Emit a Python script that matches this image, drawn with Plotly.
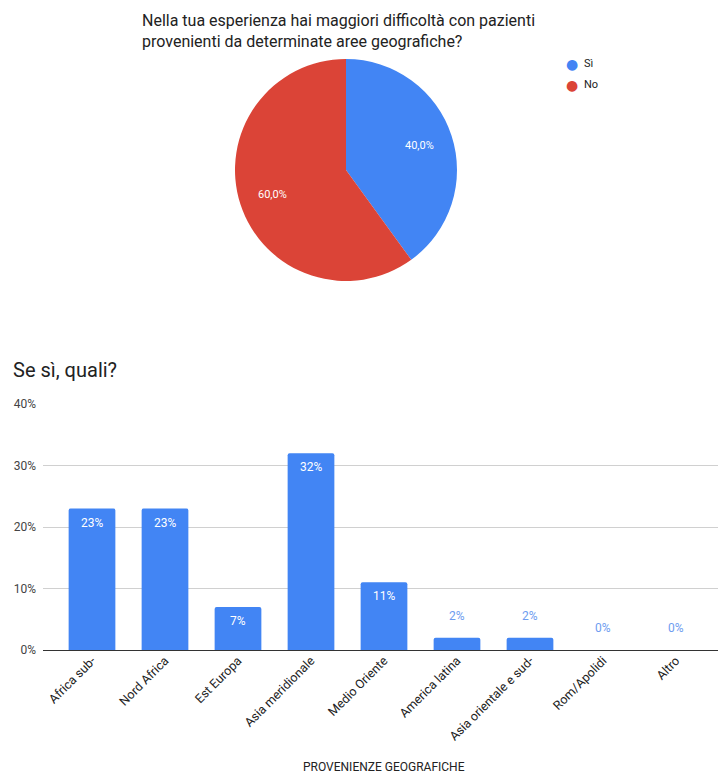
import math
import plotly.graph_objects as go

W, H = 718, 775

pie_labels = ["Sì", "No"]
pie_values = [40, 60]
pie_colors = ["#4285F4", "#DB4437"]

categories = ["Africa sub-", "Nord Africa", "Est Europa", "Asia meridionale", "Medio Oriente",
              "America latina", "Asia orientale e sud-", "Rom/Apolidi", "Altro"]
values = [23, 23, 7, 32, 11, 2, 2, 0, 0]
y_ticks = [0, 10, 20, 30, 40]

BLUE = "#4285F4"
FONT = "Roboto"

def px_x(x):
    return x / W

def px_y(y):
    return 1 - y / H

# pie box (pixels)
PIE_L, PIE_R, PIE_T, PIE_B = 235, 457, 59, 281
pcx, pcy = (PIE_L + PIE_R) / 2, (PIE_T + PIE_B) / 2
prad = (PIE_R - PIE_L) / 2

fig = go.Figure()

fig.add_trace(go.Pie(
    labels=pie_labels, values=pie_values,
    marker=dict(colors=pie_colors, line=dict(width=0)),
    sort=False, direction="clockwise", rotation=0,
    textinfo="none",
    showlegend=False, hoverinfo="label+percent",
    domain=dict(x=[px_x(PIE_L), px_x(PIE_R)], y=[px_y(PIE_B), px_y(PIE_T)]),
))

fig.add_trace(go.Bar(
    x=categories, y=values,
    marker=dict(color=BLUE, cornerradius=2),
    width=0.64, showlegend=False,
    xaxis="x", yaxis="y",
))

annotations = []

# pie slice labels, placed at 70% of the radius on each slice's mid-angle
total = sum(pie_values)
cum = 0
for v in pie_values:
    mid = (cum + v / 2) / total * 2 * math.pi
    cum += v
    lx = pcx + 0.7 * prad * math.sin(mid)
    ly = pcy - 0.7 * prad * math.cos(mid)
    pct = f"{v / total * 100:.1f}".replace(".", ",") + "%"
    annotations.append(dict(x=px_x(lx), y=px_y(ly), xref="paper", yref="paper", showarrow=False,
                            xanchor="center", yanchor="middle", text=pct,
                            font=dict(color="white", size=11, family=FONT)))

for c, v in zip(categories, values):
    if v >= 5:
        annotations.append(dict(x=c, y=v, xref="x", yref="y", text=f"{v}%", showarrow=False,
                                yanchor="top", yshift=-5,
                                font=dict(color="white", size=12, family=FONT)))
    else:
        annotations.append(dict(x=c, y=v, xref="x", yref="y", text=f"{v}%", showarrow=False,
                                yanchor="bottom", yshift=13,
                                font=dict(color="#6E9CF0", size=12, family=FONT)))

# titles
annotations.append(dict(x=px_x(140), y=px_y(9), xref="paper", yref="paper", xanchor="left", yanchor="top",
                        align="left", showarrow=False,
                        text="Nella tua esperienza hai maggiori difficoltà con pazienti<br>provenienti da determinate aree geografiche?",
                        font=dict(size=16, color="#222222", family=FONT)))
annotations.append(dict(x=px_x(11), y=px_y(370), xref="paper", yref="paper", xanchor="left", yanchor="middle",
                        showarrow=False, text="Se sì, quali?",
                        font=dict(size=20, color="#222222", family=FONT)))
annotations.append(dict(x=px_x(384), y=px_y(767), xref="paper", yref="paper", xanchor="center", yanchor="middle",
                        showarrow=False, text="PROVENIENZE GEOGRAFICHE",
                        font=dict(size=12, color="#222222", family=FONT)))

# legend for pie
for i, (lab, col) in enumerate(zip(pie_labels, pie_colors)):
    yy = 64 + 21 * i
    annotations.append(dict(x=px_x(572), y=px_y(yy), xref="paper", yref="paper", xanchor="center", yanchor="middle",
                            showarrow=False, text="●", font=dict(size=14, color=col, family="DejaVu Sans")))
    annotations.append(dict(x=px_x(582), y=px_y(yy), xref="paper", yref="paper", xanchor="left", yanchor="middle",
                            showarrow=False, text=lab, font=dict(size=11, color="#222222", family=FONT)))

x_left, x_right = 43, 718
cat_w = 73
first_c = 92
r0 = -(first_c - x_left) / cat_w
r1 = (x_right - first_c) / cat_w

fig.update_layout(
    template="none",
    width=W, height=H,
    margin=dict(l=0, r=0, t=0, b=0, pad=0, autoexpand=False),
    paper_bgcolor="white", plot_bgcolor="white",
    font=dict(family=FONT, color="#444444"),
    separators=",.",
    annotations=annotations,
    xaxis=dict(domain=[px_x(x_left), px_x(x_right)], range=[r0, r1], tickangle=-45,
               tickfont=dict(size=12.5, color="#222222", family=FONT), showgrid=False,
               showline=False, ticks="", fixedrange=True, automargin=False),
    yaxis=dict(domain=[px_y(650), px_y(404)], range=[0, 40], tickvals=y_ticks,
               ticktext=[f"{t}%" for t in y_ticks], tickfont=dict(size=12, color="#444444", family=FONT),
               showgrid=True, gridcolor="#D0D0D0", gridwidth=1, zeroline=True, zerolinecolor="#333333",
               zerolinewidth=1, showline=False,
               ticks="", ticklabelstandoff=6, fixedrange=True, automargin=False),
    bargap=0.36,
)

fig.write_html("out.html")
